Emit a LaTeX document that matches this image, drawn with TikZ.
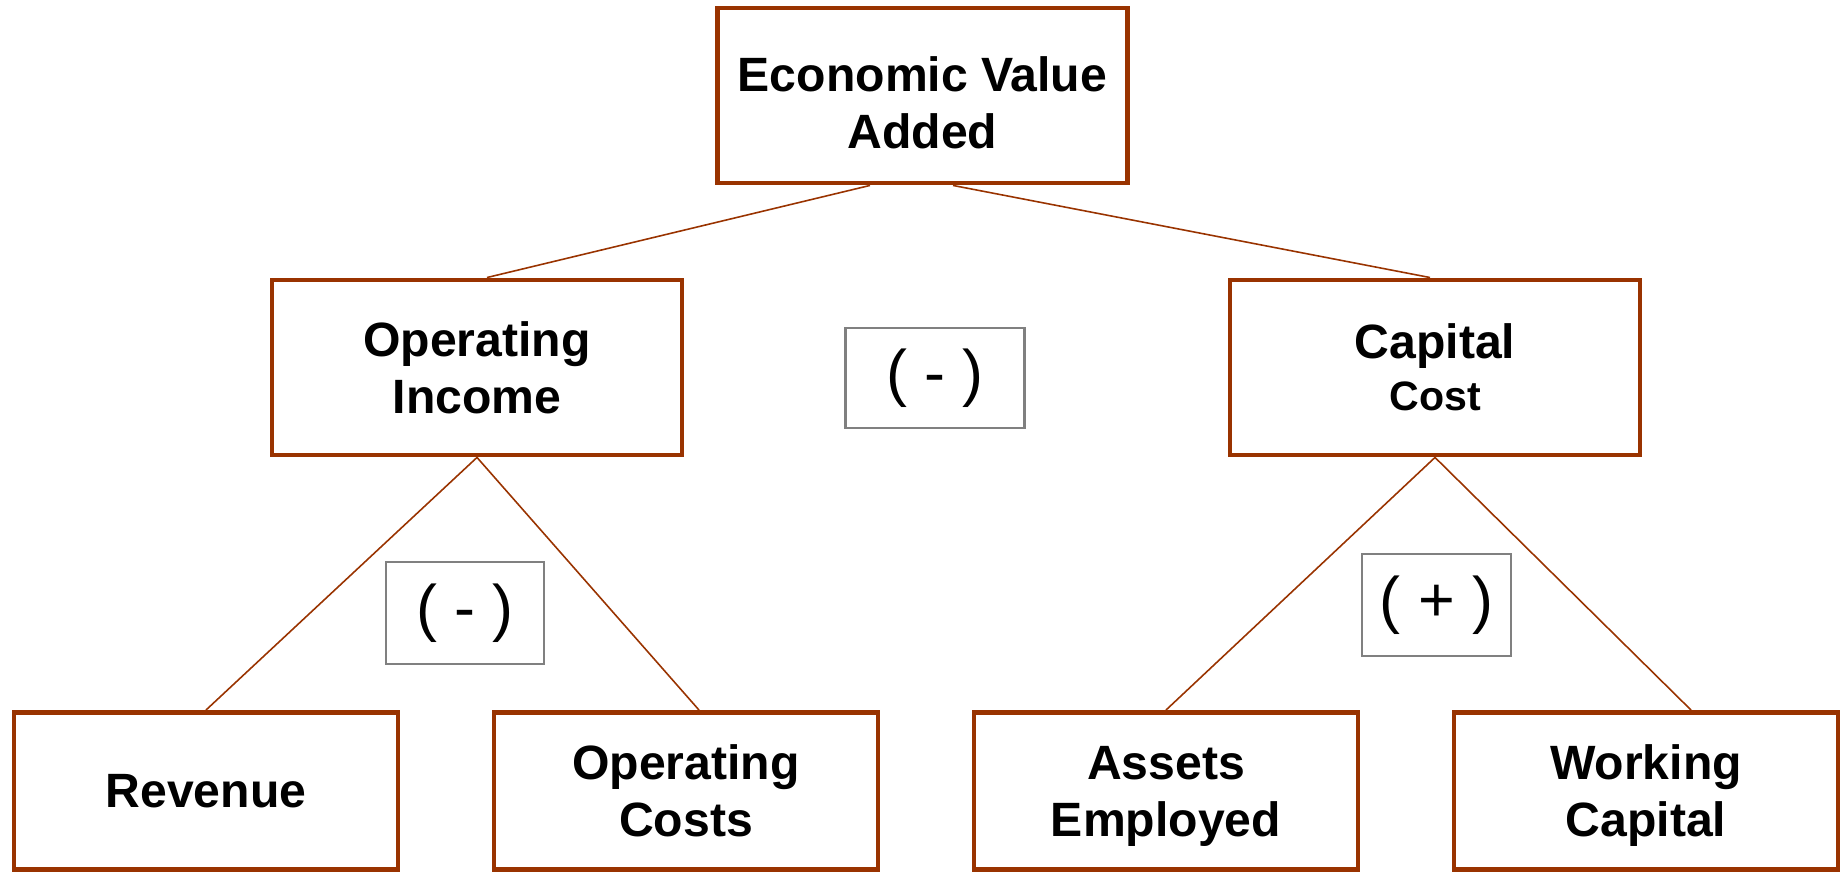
\documentclass[tikz,border=0pt]{standalone}
\usepackage{fontspec}
\setmainfont{Liberation Sans}

\definecolor{evabrown}{HTML}{993300}
\definecolor{signgray}{HTML}{808080}

\tikzset{
    box/.style={draw=evabrown, line width=1.4pt, inner sep=0pt,
        minimum width=4.1cm, minimum height=1.75cm, align=center,
        text depth=0pt, font=\bfseries\fontsize{13.7}{16.2}\selectfont},
    leaf/.style={box, minimum width=3.84cm, minimum height=1.57cm},
    sign/.style={draw=signgray, line width=0.7pt, inner sep=0pt,
        font=\fontsize{17.9}{20}\selectfont},
    link/.style={draw=evabrown, line width=0.45pt}
}

\begin{document}
\begin{tikzpicture}
        \useasboundingbox (0,0) rectangle (18.47,8.72);

        % top of the tree
        \node[box] (eva) at (9.225,7.765) {\rule{0pt}{14pt}Economic Value\\Added};

        % second level
        \node[box] (oi) at (4.77,5.045) {Operating\\Income};
        \node[box] (cc) at (14.35,5.045) {Capital\\[-1.4pt]{\fontsize{11.7}{14}\selectfont Cost}};

        % leaves
        \node[leaf] (rev) at (2.06,0.81) {Revenue};
        \node[leaf] (oc) at (6.86,0.81) {Operating\\Costs};
        \node[leaf] (ae) at (11.66,0.81) {Assets\\Employed};
        \node[leaf] (wc) at (16.46,0.81) {Working\\Capital};

        % operators
        \node[sign, minimum width=1.79cm, minimum height=1.005cm] (submid) at (9.35,4.94) {( - )};
        \node[sign, minimum width=1.58cm, minimum height=1.015cm] (sublow) at (4.65,2.59) {( - )};
        \node[sign, minimum width=1.49cm, minimum height=1.02cm] (add) at (14.365,2.67) {( + )};

        \path[link] ([xshift=-5.25mm]eva.south) -- ([xshift=1mm]oi.north);
        \path[link] ([xshift=3.05mm]eva.south) -- ([xshift=-0.5mm]cc.north);

        \path[link] (oi.south) -- (rev.north);
        \path[link] (oi.south) -- ([xshift=1.3mm]oc.north);
        \path[link] (cc.south) -- (ae.north);
        \path[link] (cc.south) -- ([xshift=4.5mm]wc.north);
    \end{tikzpicture}
\end{document}
